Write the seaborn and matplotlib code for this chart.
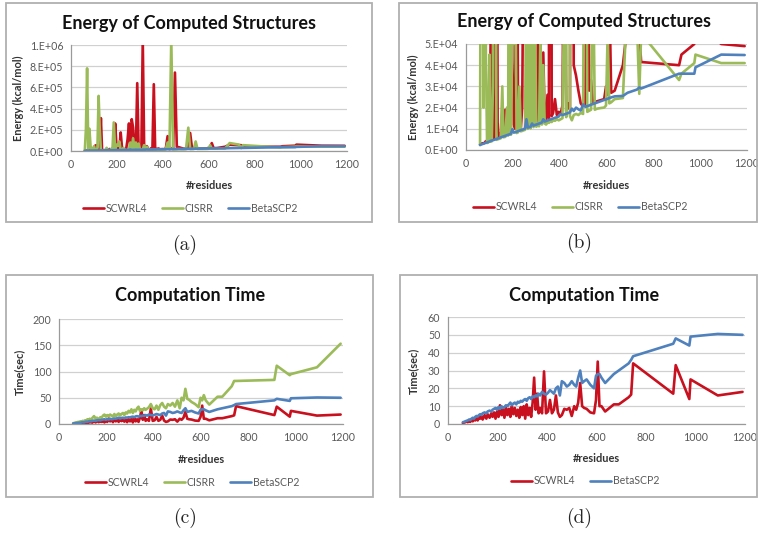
import matplotlib
matplotlib.use("Agg")
import matplotlib.pyplot as plt
from matplotlib.patches import Rectangle
from matplotlib.ticker import FuncFormatter, MultipleLocator
import pandas as pd
import seaborn as sns

# residue counts of the test proteins (shared by every series)
residues = [60, 65, 70, 75, 80, 85, 90, 95, 100, 105,
            110, 115, 120, 125, 130, 135, 140, 148, 155, 160,
            168, 175, 180, 186, 192, 198, 204, 210, 216, 222,
            228, 234, 240, 246, 252, 258, 264, 270, 276, 282,
            288, 294, 300, 306, 312, 318, 324, 330, 336, 342,
            348, 354, 360, 366, 372, 380, 388, 396, 404, 412,
            420, 428, 436, 444, 452, 460, 470, 480, 490, 500,
            510, 518, 526, 534, 542, 550, 560, 575, 590, 598,
            605, 612, 620, 635, 670, 690, 730, 740, 748, 910,
            920, 975, 980, 1090, 1190]

# energy (kcal/mol)
beta_energy = [2400, 2600, 2800, 3000, 3200, 3400, 3600, 3800, 4000, 4300,
               4500, 4600, 4800, 5000, 5200, 5400, 5600, 6000, 6200, 6400,
               6700, 7000, 7200, 7400, 7700, 9800, 8200, 8400, 8600, 8900,
               9100, 9400, 9600, 9800, 10100, 14500, 10600, 10800, 11000, 12500,
               11500, 11800, 12000, 12200, 12500, 12700, 13000, 14500, 13400, 13700,
               13900, 14200, 14400, 14600, 14900, 15200, 15500, 15800, 17000, 16500,
               16800, 17100, 17400, 17800, 19500, 18400, 20000, 19200, 18600, 21500,
               20400, 20700, 21000, 21400, 21700, 22000, 22400, 23000, 23600, 23900,
               24200, 24500, 24800, 25300, 25500, 27000, 28500, 29500, 29000, 36000,
               36000, 36000, 39000, 45000, 44800]

scwrl_energy = [2600, 3000, 3200, 3100, 3500, 4200, 3800, 4000, 4500, 50000,
                55000, 8000, 5000, 6000, 310000, 13000, 5800, 8000, 6500, 7000,
                19000, 9000, 16000, 8000, 260000, 42000, 12000, 10000, 175000, 25000,
                11000, 9800, 20000, 110000, 260000, 12000, 300000, 220000, 15000, 12000,
                640000, 14000, 13000, 17000, 1050000, 45000, 14000, 46000, 15000, 14500,
                26000, 15000, 630000, 16000, 17500, 24000, 16500, 18000, 17000, 21000,
                140000, 18500, 22000, 19000, 740000, 40000, 35000, 28000, 22000, 20500,
                21500, 170000, 28000, 33000, 22000, 22500, 23000, 23500, 24000, 30000,
                26000, 75000, 27000, 28000, 40000, 60000, 55000, 55000, 41500, 40000,
                45000, 50000, 60000, 50000, 49000]

cisrr_energy = [2300, 210000, 780000, 20000, 210000, 45000, 3300, 3500, 45000, 3900,
                4100, 30000, 520000, 200000, 4800, 5000, 5200, 5500, 30000, 6000,
                6200, 20000, 6800, 270000, 7200, 60000, 50000, 90000, 8000, 8300,
                30000, 8800, 9000, 9300, 9500, 80000, 10000, 120000, 10200, 80000,
                10800, 70000, 11000, 11500, 11200, 55000, 12000, 40000, 12500, 12000,
                13000, 12800, 13500, 13200, 14000, 13800, 14500, 14000, 14500, 15000,
                80000, 15500, 1050000, 16000, 14000, 16500, 17000, 16500, 17500, 17000,
                220000, 18000, 18500, 19000, 90000, 19000, 19500, 19800, 20000, 21000,
                55000, 22000, 22500, 24000, 24500, 75000, 60000, 26500, 55000, 33000,
                36000, 41000, 45000, 41000, 41000]

# computation time (sec)
beta_time = [1.0, 1.2, 1.5, 1.8, 2.0, 2.5, 2.2, 3.0, 3.5, 3.0,
             4.0, 4.5, 4.2, 5.0, 5.5, 5.0, 6.0, 6.5, 6.0, 7.0,
             7.5, 7.0, 8.0, 8.5, 9.0, 8.0, 9.5, 8.5, 10.0, 9.0,
             9.5, 10.5, 10.0, 11.0, 12.0, 10.5, 11.5, 12.0, 11.0, 12.5,
             12.0, 13.0, 12.5, 13.5, 14.0, 13.0, 14.5, 15.0, 14.0, 15.5,
             15.0, 16.0, 15.5, 17.0, 16.0, 18.0, 17.0, 16.5, 17.5, 19.0,
             18.0, 17.0, 20.0, 21.0, 16.0, 24.0, 23.0, 21.0, 22.0, 24.0,
             22.0, 21.0, 26.0, 30.0, 23.0, 24.0, 25.0, 22.0, 20.0, 27.0,
             28.0, 28.0, 26.0, 23.0, 28.0, 30.0, 34.0, 36.0, 38.0, 45.0,
             48.0, 44.0, 49.0, 50.5, 50.0]

scwrl_time = [0.5, 0.8, 1.0, 1.5, 1.0, 2.0, 1.2, 2.5, 1.5, 3.0,
              2.0, 3.5, 2.0, 4.0, 3.0, 4.5, 2.5, 5.0, 3.0, 5.5,
              3.5, 6.0, 4.0, 6.5, 3.0, 7.0, 4.0, 10.5, 5.0, 8.0,
              3.5, 9.0, 5.0, 8.5, 4.0, 10.0, 5.5, 9.0, 4.5, 8.0,
              3.5, 9.5, 5.0, 10.0, 3.0, 11.0, 5.0, 9.0, 4.0, 12.0,
              26.0, 8.0, 17.0, 6.0, 9.0, 6.0, 29.5, 6.0, 7.0, 13.5,
              6.0, 8.0, 16.0, 6.5, 4.0, 5.0, 8.5, 8.0, 9.0, 4.5,
              10.0, 8.0, 12.0, 23.0, 10.0, 9.0, 8.5, 6.5, 6.0, 13.5,
              35.0, 10.0, 10.0, 7.0, 11.0, 11.0, 15.0, 16.5, 34.0, 17.0,
              33.0, 14.0, 25.0, 16.0, 18.0]

cisrr_time = [1.5, 2.0, 3.0, 2.5, 4.0, 3.5, 5.0, 4.0, 6.0, 5.0,
              7.0, 6.0, 9.0, 8.0, 10.0, 8.0, 11.0, 15.0, 10.0, 12.0,
              9.0, 13.0, 12.0, 16.0, 18.0, 14.0, 17.0, 15.0, 18.0, 16.0,
              14.0, 19.0, 15.0, 18.0, 20.0, 16.0, 19.0, 21.0, 17.0, 22.0,
              20.0, 25.0, 22.0, 28.0, 21.0, 27.0, 24.0, 30.0, 33.0, 25.0,
              28.0, 26.0, 30.0, 27.0, 29.0, 32.0, 38.0, 30.0, 28.0, 35.0,
              27.0, 36.0, 40.0, 33.0, 30.0, 38.0, 35.0, 40.0, 33.0, 45.0,
              30.0, 50.0, 45.0, 67.0, 48.0, 46.0, 42.0, 38.0, 32.0, 50.0,
              45.0, 55.0, 45.0, 37.0, 52.0, 52.0, 72.0, 82.0, 82.0, 84.0,
              111.0, 93.0, 95.0, 108.0, 153.0]

COLORS = {"SCWRL4": "#C8101E", "CISRR": "#9BBB59", "BetaSCP2": "#4F81BD"}
W, H = 758, 534
FONT = ["Lato", "DejaVu Sans"]
GRAY = "#595959"


def long_frame(series):
    parts = []
    for name, values in series.items():
        parts.append(pd.DataFrame({"residues": residues, "value": values, "method": name}))
    return pd.concat(parts, ignore_index=True)


def sci_label(v, _pos):
    return f"{v:#.0E}"


def draw_panel(fig, series, box, frame, title, title_xy, ylabel, ymax, ystep,
               sci, legend_xy, ylabel_x, xlabel_y, caption, caption_xy):
    x0, y0, x1, y1 = box
    ax = fig.add_axes([x0 / W, 1 - y1 / H, (x1 - x0) / W, (y1 - y0) / H])

    df = long_frame(series)
    sns.lineplot(data=df, x="residues", y="value", hue="method",
                 palette=COLORS, hue_order=list(series.keys()),
                 estimator=None, sort=False, lw=1.9, legend=False, ax=ax)

    ax.set_xlim(0, 1200)
    ax.set_ylim(0, ymax)
    ax.xaxis.set_major_locator(MultipleLocator(200))
    ax.yaxis.set_major_locator(MultipleLocator(ystep))
    if sci:
        ax.yaxis.set_major_formatter(FuncFormatter(sci_label))
    ax.grid(axis="y", color="#D0D0D0", lw=0.9)
    ax.grid(axis="x", visible=False)
    ax.set_axisbelow(True)
    for side in ("top", "right"):
        ax.spines[side].set_visible(False)
    for side in ("left", "bottom"):
        ax.spines[side].set_color("#9A9A9A")
        ax.spines[side].set_linewidth(0.9)
    ax.tick_params(axis="both", labelsize=7.7, colors="#9A9A9A",
                   labelcolor=GRAY, length=2.5, width=0.8, pad=3)
    for t in ax.get_xticklabels() + ax.get_yticklabels():
        t.set_family(FONT)

    ax.set_xlabel("#residues", fontsize=7.9, fontweight="bold", color="#333333", family=FONT)
    ax.set_ylabel(ylabel, fontsize=7.9, fontweight="bold", color="#333333", family=FONT)
    ax.xaxis.set_label_coords(0.5, -(xlabel_y - y1) / (y1 - y0))
    ax.yaxis.set_label_coords((ylabel_x - x0) / (x1 - x0), 0.5)

    handles = ax.get_lines()[:len(series)]
    leg = ax.legend(handles, list(series.keys()), loc="center", ncol=len(series),
                    bbox_to_anchor=(legend_xy[0] / W, 1 - legend_xy[1] / H),
                    bbox_transform=fig.transFigure, frameon=False,
                    prop={"family": FONT, "size": 7.6}, handlelength=2.0,
                    handletextpad=0.15, columnspacing=1.4)
    for t in leg.get_texts():
        t.set_color(GRAY)

    fig.text(title_xy[0] / W, 1 - title_xy[1] / H, title, ha="center", va="center",
             fontsize=13, fontweight="bold", color="#111111", family=FONT)
    fig.text(caption_xy[0] / W, 1 - caption_xy[1] / H, caption, ha="center",
             va="center", fontsize=14, family=["cmr10", "DejaVu Serif"])

    fx0, fy0, fx1, fy1 = frame
    fig.patches.append(Rectangle((fx0 / W, 1 - fy1 / H), (fx1 - fx0) / W, (fy1 - fy0) / H,
                                 transform=fig.transFigure, fill=False,
                                 ec="#B0B0B0", lw=1.3))
    return ax


sns.set_theme(style="white")
plt.rcParams["font.family"] = FONT
plt.rcParams["axes.formatter.use_mathtext"] = False

fig = plt.figure(figsize=(W / 100, H / 100), dpi=100)

energy_all = {"SCWRL4": scwrl_energy, "CISRR": cisrr_energy, "BetaSCP2": beta_energy}
time_all = {"SCWRL4": scwrl_time, "CISRR": cisrr_time, "BetaSCP2": beta_time}
time_two = {"SCWRL4": scwrl_time, "BetaSCP2": beta_time}

draw_panel(fig, energy_all, (71, 45, 347, 151), (6, 3, 372, 222),
           "Energy of Computed Structures", (189, 23), "Energy (kcal/mol)",
           1e6, 2e5, True, (190, 208), 24, 180, "(a)", (185, 245))
draw_panel(fig, energy_all, (466, 44, 747, 150), (399, 3, 757, 222),
           "Energy of Computed Structures", (584, 21), "Energy (kcal/mol)",
           5e4, 1e4, True, (580, 207), 419, 180, "(b)", (579, 243))
draw_panel(fig, time_all, (59, 319, 343, 424), (6, 275, 373, 497),
           "Computation Time", (190, 296), "Time(sec)",
           200, 50, False, (192, 482), 25, 454, "(c)", (185, 518))
draw_panel(fig, time_two, (448, 317, 745, 424), (400, 275, 757, 497),
           "Computation Time", (584, 295), "Time(sec)",
           60, 10, False, (585, 481), 419, 453, "(d)", (579, 518))

fig.savefig("out.png", dpi=100)
